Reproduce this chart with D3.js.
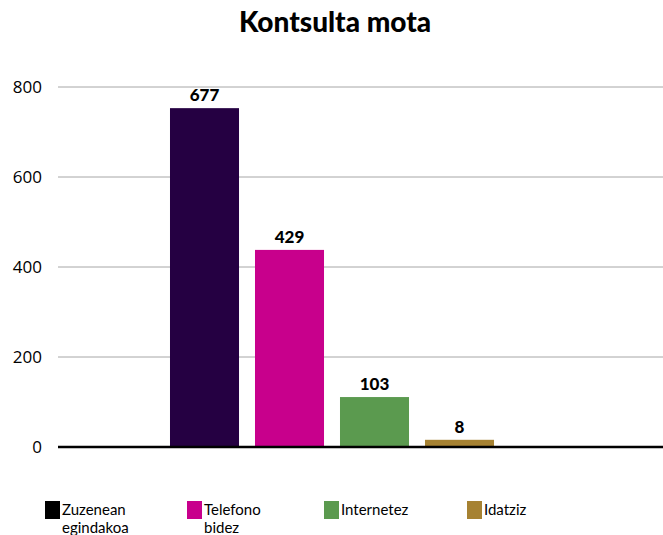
<!DOCTYPE html>
<html>
<head>
<meta charset="utf-8">
<script src="https://cdn.jsdelivr.net/npm/d3@7"></script>
<style>
  body { margin: 0; background: #fff; }
  #chart { width: 663px; height: 535px; }
</style>
</head>
<body>
<div id="chart"></div>
<script>
const categories = ["Zuzenean egindakoa", "Telefono bidez", "Internetez", "Idatziz"]
const legendLines = [["Zuzenean", "egindakoa"], ["Telefono", "bidez"], ["Internetez"], ["Idatziz"]]
// bar heights as drawn in the picture, and the labels printed above them
const barValues = [753, 438, 111, 16]
const valueLabels = ["677", "429", "103", "8"]
const yTicks = [0, 200, 400, 600, 800]
const barColors = ["#250042", "#c8008c", "#5b9a4f", "#a68232"]
const legendColors = ["#000000", "#c8008c", "#5b9a4f", "#a68232"]

const makeChart = function() {
  const width = 663, height = 535
  const left = 58, right = 663, top = 87, bottom = 447

  let svg = d3.select("#chart")
    .append("svg")
      .attr("width", width)
      .attr("height", height)

  let y = d3.scaleLinear()
    .domain([0, 800])
    .range([bottom, top])

  let x = d3.scaleBand()
    .domain(categories)
    .range([162, 502])
    .paddingInner(0.188)
    .paddingOuter(0.094)

  // title
  svg.append("text")
    .attr("x", 335)
    .attr("y", 32)
    .attr("text-anchor", "middle")
    .style("font-family", "Lato, sans-serif")
    .style("font-weight", "900")
    .style("font-size", "28px")
    .text("Kontsulta mota")

  // gridlines
  svg.selectAll(".grid")
    .data(yTicks.filter(d => d > 0))
    .enter()
    .append("line")
      .attr("x1", left)
      .attr("x2", right)
      .attr("y1", d => y(d))
      .attr("y2", d => y(d))
      .attr("stroke", "#a6a6a6")
      .attr("stroke-width", 1)

  // y axis labels
  let yAxis = d3.axisLeft(y).tickValues(yTicks).tickSize(0).tickPadding(0)
  let gy = svg.append("g")
    .attr("transform", "translate(42,0)")
    .call(yAxis)
  gy.select(".domain").remove()
  gy.selectAll("text")
    .style("font-family", "'Open Sans', sans-serif")
    .style("font-size", "17px")
    .attr("fill", "#000")
    .attr("dy", "0.35em")

  // bars
  svg.selectAll(".bar")
    .data(barValues)
    .enter()
    .append("rect")
      .attr("x", (d, i) => x(categories[i]))
      .attr("y", d => y(d))
      .attr("width", x.bandwidth())
      .attr("height", d => y(0) - y(d))
      .attr("fill", (d, i) => barColors[i])

  // value labels
  svg.selectAll(".val")
    .data(barValues)
    .enter()
    .append("text")
      .attr("x", (d, i) => x(categories[i]) + x.bandwidth() / 2)
      .attr("y", d => y(d) - 7)
      .attr("text-anchor", "middle")
      .style("font-family", "Lato, sans-serif")
      .style("font-weight", "900")
      .style("font-size", "17px")
      .text((d, i) => valueLabels[i])

  // baseline
  svg.append("line")
    .attr("x1", left)
    .attr("x2", right)
    .attr("y1", y(0))
    .attr("y2", y(0))
    .attr("stroke", "#000")
    .attr("stroke-width", 2.5)

  // legend
  const legendX = [45, 187, 324, 467]
  let legend = svg.selectAll(".legend")
    .data(categories)
    .enter()
    .append("g")
      .attr("transform", (d, i) => "translate(" + legendX[i] + ",501)")

  legend.append("rect")
    .attr("width", 15)
    .attr("height", 18)
    .attr("fill", (d, i) => legendColors[i])

  legend.selectAll("text")
    .data((d, i) => legendLines[i])
    .enter()
    .append("text")
      .attr("x", 17)
      .attr("y", (d, j) => 14 + j * 18)
      .style("font-family", "Lato, sans-serif")
      .style("font-size", "15px")
      .text(d => d)
}

makeChart()
</script>
</body>
</html>
